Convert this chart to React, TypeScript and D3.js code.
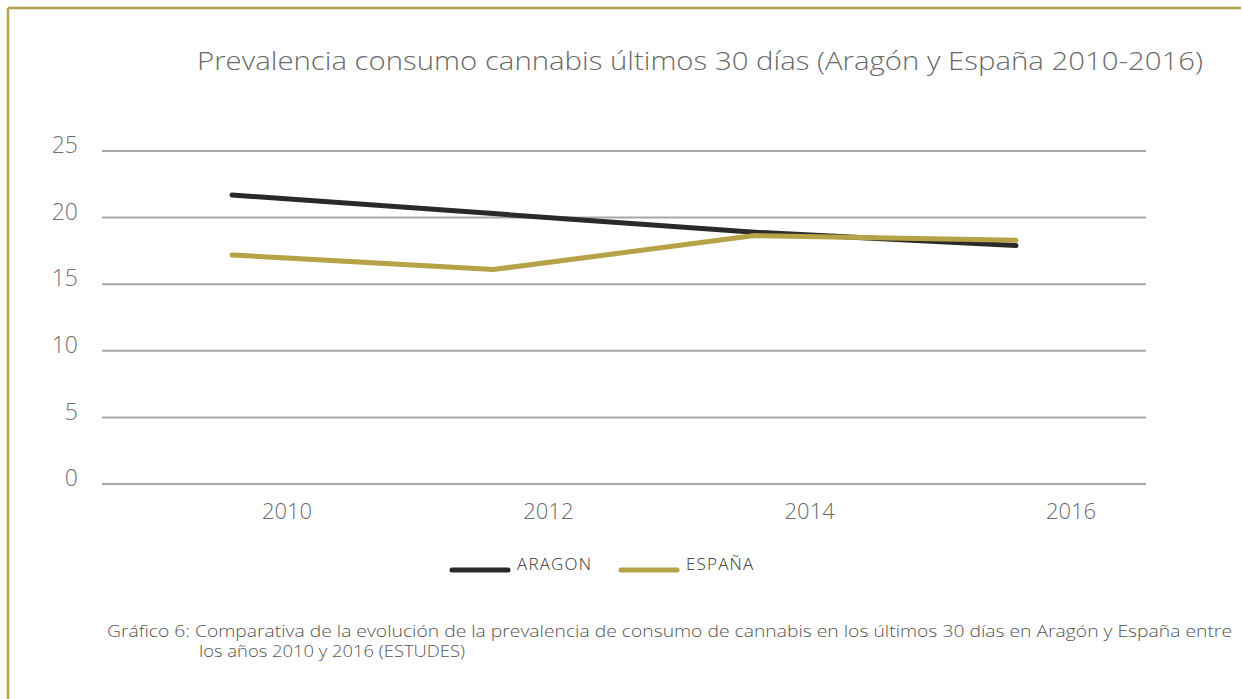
import React from "react";
import * as d3 from "d3";

const years = ["2010", "2012", "2014", "2016"];
const aragon = [21.7, 20.3, 18.9, 17.9];
const espana = [17.2, 16.1, 18.65, 18.3];
const yTicks = [0, 5, 10, 15, 20, 25];
const seriesNames = ["ARAGON", "ESPAÑA"];
const title = "Prevalencia consumo cannabis últimos 30 días (Aragón y España 2010-2016)";
const caption1 = "Gráfico 6: Comparativa de la evolución de la prevalencia de consumo de cannabis en los últimos 30 días en Aragón y España entre";
const caption2 = "los años 2010 y 2016 (ESTUDES)";

const W = 1242, H = 699;
const GOLD = "#b6a347";
const DARK = "#2a2a2a";
const FONT = "'Open Sans', 'Noto Sans', sans-serif";

export default function App() {
  const x = d3.scalePoint<string>().domain(years).range([232, 1016]);
  const y = d3.scaleLinear().domain([0, 25]).range([484, 151]);
  const line = d3.line<number>().x((_, i) => x(years[i])!).y((d) => y(d));
  const series = [
    { name: seriesNames[0], values: aragon, color: DARK },
    { name: seriesNames[1], values: espana, color: GOLD },
  ];
  const legendX = d3.scaleOrdinal<string, number>().domain(seriesNames).range([452, 621]);

  return (
    <svg width={W} height={H} style={{ position: "absolute", left: 0, top: 0, background: "#fff" }}>
      <line x1={8} y1={8} x2={1241} y2={8} stroke={GOLD} strokeWidth={2.5} />
      <line x1={8} y1={8} x2={8} y2={699} stroke={GOLD} strokeWidth={2.5} />

      <text x={197} y={70} fontFamily={FONT} fontWeight={300} fontSize={26} fill="#6a6a6a" textLength={1006} lengthAdjust="spacingAndGlyphs">
        {title}
      </text>

      {yTicks.map((t) => (
        <g key={t}>
          <line x1={102} x2={1146} y1={y(t)} y2={y(t)} stroke="#a8a8a8" strokeWidth={2} />
          <text x={78} y={y(t) - 4} textAnchor="end" dominantBaseline="middle" fontFamily={FONT} fontWeight={300} fontSize={23} fill="#707070">
            {t}
          </text>
        </g>
      ))}

      {years.map((yr) => (
        <text key={yr} x={x(yr)! + 55} y={513} textAnchor="middle" dominantBaseline="middle" fontFamily={FONT} fontWeight={300} fontSize={22} fill="#6a6a6a">
          {yr}
        </text>
      ))}

      {series.map((s) => (
        <path key={s.name} d={line(s.values)!} fill="none" stroke={s.color} strokeWidth={5} strokeLinecap="round" strokeLinejoin="round" />
      ))}

      {series.map((s) => (
        <g key={s.name}>
          <line x1={legendX(s.name)} x2={legendX(s.name) + 56} y1={570} y2={570} stroke={s.color} strokeWidth={5} strokeLinecap="round" />
          <text x={legendX(s.name) + 65} y={565} dominantBaseline="middle" fontFamily={FONT} fontWeight={300} fontSize={17} letterSpacing={1.2} fill="#333">
            {s.name}
          </text>
        </g>
      ))}

      <text x={107} y={637} fontFamily={FONT} fontWeight={300} fontSize={15.5} fill="#555" textLength={1125} lengthAdjust="spacingAndGlyphs">
        {caption1}
      </text>
      <text x={199} y={657} fontFamily={FONT} fontWeight={300} fontSize={15.5} fill="#555" textLength={266} lengthAdjust="spacingAndGlyphs">
        {caption2}
      </text>
    </svg>
  );
}
